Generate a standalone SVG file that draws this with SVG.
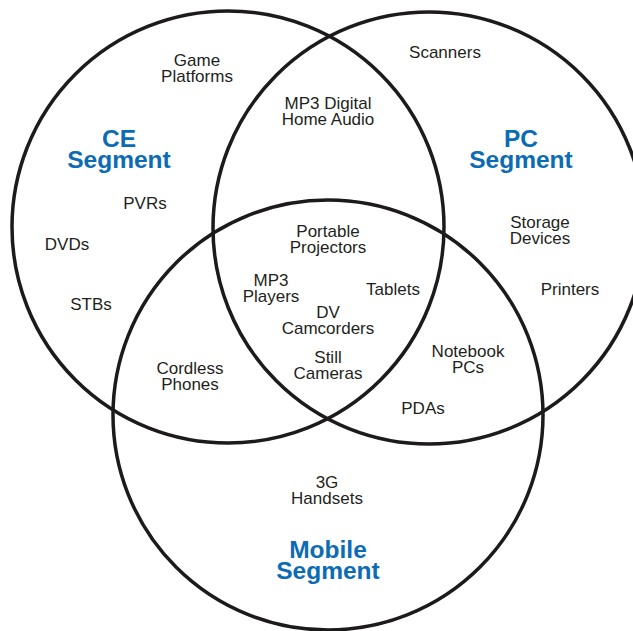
<svg xmlns="http://www.w3.org/2000/svg" width="633" height="631" viewBox="0 0 633 631">
<style>
.ring{fill:none;stroke:#1c1a1a;stroke-width:3.5}
.t{font-family:"Liberation Sans",Arial,sans-serif;font-size:17px;fill:#231f20;text-anchor:middle}
.seg{font-family:"Liberation Sans",Arial,sans-serif;font-size:24.5px;font-weight:bold;fill:#0b6bb5;text-anchor:middle}
</style>
<rect width="633" height="631" fill="#ffffff"/>
<g id="ce-circle"><circle class="ring" cx="228" cy="227" r="216"/></g>
<g id="pc-circle"><circle class="ring" cx="429" cy="228" r="216"/></g>
<g id="mobile-circle"><circle class="ring" cx="328" cy="415" r="215"/></g>
<g id="ce-segment"><text class="seg" x="119" y="147">CE</text><text class="seg" x="119" y="168">Segment</text></g>
<g id="pc-segment"><text class="seg" x="521" y="147">PC</text><text class="seg" x="521" y="168">Segment</text></g>
<g id="mobile-segment"><text class="seg" x="328" y="558">Mobile</text><text class="seg" x="328" y="579">Segment</text></g>
<g id="game-platforms"><text class="t" x="197" y="66">Game</text><text class="t" x="197" y="82">Platforms</text></g>
<g id="pvrs"><text class="t" x="145" y="209">PVRs</text></g>
<g id="dvds"><text class="t" x="67" y="250">DVDs</text></g>
<g id="stbs"><text class="t" x="91" y="310">STBs</text></g>
<g id="mp3-digital-home-audio"><text class="t" x="328" y="109">MP3 Digital</text><text class="t" x="328" y="125">Home Audio</text></g>
<g id="scanners"><text class="t" x="445" y="58">Scanners</text></g>
<g id="storage-devices"><text class="t" x="540" y="228">Storage</text><text class="t" x="540" y="244">Devices</text></g>
<g id="printers"><text class="t" x="570" y="295">Printers</text></g>
<g id="portable-projectors"><text class="t" x="328" y="237">Portable</text><text class="t" x="328" y="253">Projectors</text></g>
<g id="mp3-players"><text class="t" x="271" y="286">MP3</text><text class="t" x="271" y="302">Players</text></g>
<g id="tablets"><text class="t" x="393" y="295">Tablets</text></g>
<g id="dv-camcorders"><text class="t" x="328" y="318">DV</text><text class="t" x="328" y="334">Camcorders</text></g>
<g id="still-cameras"><text class="t" x="328" y="363">Still</text><text class="t" x="328" y="379">Cameras</text></g>
<g id="cordless-phones"><text class="t" x="190" y="374">Cordless</text><text class="t" x="190" y="390">Phones</text></g>
<g id="notebook-pcs"><text class="t" x="468" y="357">Notebook</text><text class="t" x="468" y="373">PCs</text></g>
<g id="pdas"><text class="t" x="423" y="414">PDAs</text></g>
<g id="3g-handsets"><text class="t" x="327" y="488">3G</text><text class="t" x="327" y="504">Handsets</text></g>
<g id="connectors"></g>
</svg>
